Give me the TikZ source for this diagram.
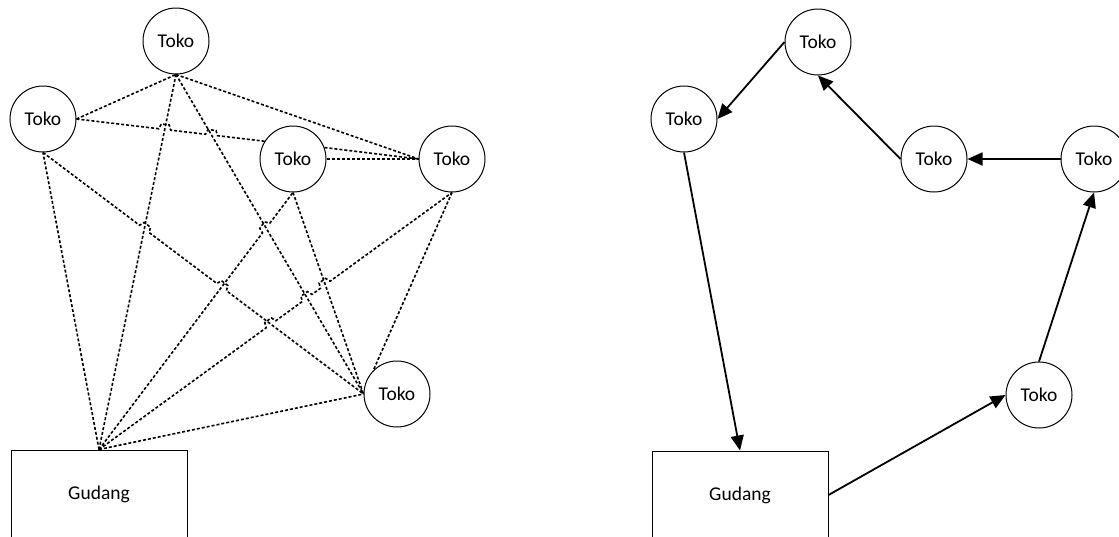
\documentclass[tikz,border=0pt]{standalone}
\usepackage{fontspec}
\setmainfont{Carlito}
\usetikzlibrary{arrows.meta,calc,intersections}
\tikzset{
  lbl/.style={font=\fontsize{19.5}{23}\selectfont},
  toko/.style={circle,draw,line width=1pt,minimum size=66pt,inner sep=0pt,lbl},
  gudang/.style={rectangle,draw,line width=1pt,minimum width=176pt,minimum height=88pt,inner sep=0pt,lbl},
  link/.style={line width=1.6pt,dash pattern=on 3pt off 2pt},
  arr/.style={line width=1.8pt,-{Triangle[length=15pt,width=13pt]}}
}
\newcommand\hopat[2]{-- ($(#1)!-6pt!(#2)$) -- ($(#1)!-4pt!(#2)!5pt!90:(#2)$) -- ($(#1)!4pt!(#2)!5pt!90:(#2)$) -- ($(#1)!6pt!(#2)$)}
\begin{document}
\begin{tikzpicture}[x=1pt,y=-1pt]
\fill[white] (0,0) rectangle (1119,536);
\useasboundingbox (0,0) rectangle (1119,536);
% ---------- left diagram ----------
\node[toko] (tA) at (176,41) {Toko};
\node[toko] (lA) at (43,119) {Toko};
\node[toko] (mA) at (293,159) {Toko};
\node[toko] (rA) at (452,159) {Toko};
\node[toko] (bA) at (397,394) {Toko};
\node[gudang] (gA) at (99,494) {Gudang};
% named paths for intersections
\path[name path=p2] (gA.north) -- (tA.south);
\path[name path=p3] (gA.north) -- (mA.south);
\path[name path=p4] (gA.north) -- (rA.south);
\path[name path=p7] (lA.east) -- (mA.148);
\path[name path=p8] (lA.south) -- (bA.west);
\path[name path=p10] (tA.south) -- (bA.west);
\path[name path=p13] (mA.south) -- (bA.west);
\path[name intersections={of=p3 and p10,by=x3a}];
\path[name intersections={of=p4 and p8,by=x4a}];
\path[name intersections={of=p4 and p10,by=x4b}];
\path[name intersections={of=p4 and p13,by=x4c}];
\path[name intersections={of=p7 and p2,by=x7a}];
\path[name intersections={of=p7 and p10,by=x7b}];
\path[name intersections={of=p8 and p2,by=x8a}];
\path[name intersections={of=p8 and p3,by=x8b}];
% connectors
\draw[link] (gA.north) -- (lA.south);
\draw[link] (gA.north) -- (tA.south);
\draw[link] (gA.north) \hopat{x3a}{mA.south} -- (mA.south);
\draw[link] (gA.north) \hopat{x4a}{rA.south} \hopat{x4b}{rA.south} \hopat{x4c}{rA.south} -- (rA.south);
\draw[link] (gA.north) -- (bA.west);
\draw[link] (lA.east) -- (tA.south);
\draw[link] (lA.east) \hopat{x7a}{mA.148} \hopat{x7b}{mA.148} -- (mA.148);
\draw[link] (lA.south) \hopat{x8a}{bA.west} \hopat{x8b}{bA.west} -- (bA.west);
\draw[link] (tA.south) -- (rA.west);
\draw[link] (tA.south) -- (bA.west);
\draw[link] (mA.20) -- (rA.west);
\draw[link] (mA.east) -- (rA.west);
\draw[link] (mA.south) -- (bA.west);
\draw[link] (rA.south) -- (bA.135);
% ---------- right diagram ----------
\node[toko] (tB) at (818,42) {Toko};
\node[toko] (lB) at (684,119) {Toko};
\node[toko] (mB) at (934,159) {Toko};
\node[toko] (rB) at (1094,159) {Toko};
\node[toko] (bB) at (1039,395) {Toko};
\node[gudang] (gB) at (740,495) {Gudang};
\draw[arr] (tB.west) -- (lB.east);
\draw[arr] (mB.west) -- (tB.south);
\draw[arr] (rB.west) -- (mB.east);
\draw[arr] (lB.south) -- (gB.north);
\draw[arr] (gB.east) -- (bB.west);
\draw[arr] (bB.north) -- (rB.south);
\end{tikzpicture}
\end{document}
